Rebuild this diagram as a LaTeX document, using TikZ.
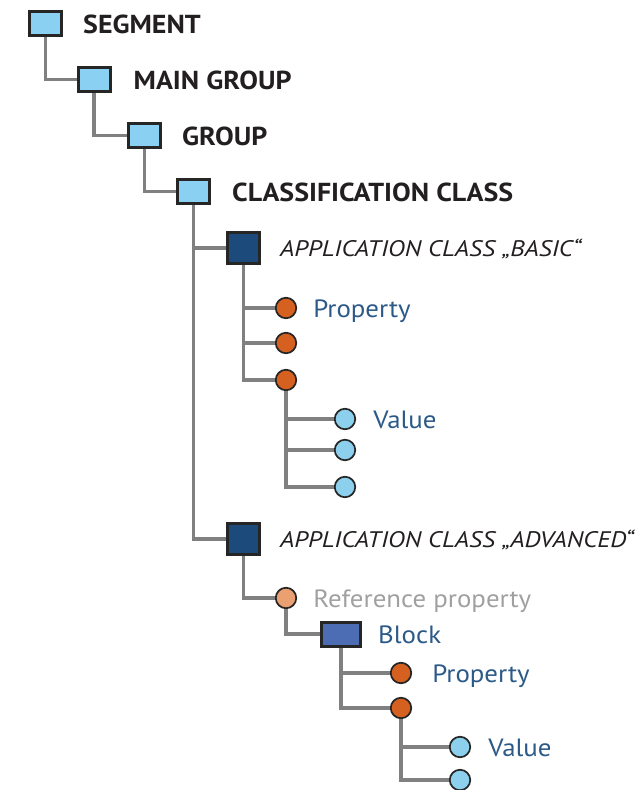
\documentclass[tikz,border=0pt]{standalone}
\usepackage{fontspec}
\setmainfont{PT Sans}[FakeStretch=1.075]
\newfontfamily\appfont{PT Sans}[FakeStretch=1.14]
\usetikzlibrary{positioning}
\definecolor{boxlight}{RGB}{138,208,242}
\definecolor{boxdark}{RGB}{28,74,122}
\definecolor{boxblock}{RGB}{76,108,180}
\definecolor{propfill}{RGB}{214,96,32}
\definecolor{reffill}{RGB}{234,160,112}
\definecolor{valfill}{RGB}{140,208,238}
\definecolor{linegray}{RGB}{128,128,128}
\definecolor{txtblue}{RGB}{44,90,136}
\definecolor{txtgray}{RGB}{160,160,160}
\definecolor{txtdark}{RGB}{35,31,32}

\begin{document}
\begin{tikzpicture}[x=1pt,y=-1pt,node distance=19pt,
    conn/.style={draw=linegray,line width=3.2pt},
    cbox/.style={draw=black!85,line width=3pt,fill=boxlight,minimum width=32pt,minimum height=24pt,inner sep=0pt},
    abox/.style={draw=black!85,line width=3pt,fill=boxdark,minimum width=32pt,minimum height=31pt,inner sep=0pt},
    bbox/.style={draw=black!85,line width=3pt,fill=boxblock,minimum width=39pt,minimum height=24pt,inner sep=0pt},
    prop/.style={circle,draw=black!85,line width=1.7pt,fill=propfill,minimum size=20.5pt,inner sep=0pt},
    refp/.style={prop,fill=reffill},
    val/.style={prop,fill=valfill},
    head/.style={inner sep=0pt,text height=19pt,text depth=0pt,text=txtdark,font=\fontsize{26}{30}\selectfont\bfseries},
    app/.style={inner sep=0pt,text height=16pt,text depth=0pt,text=txtdark,font=\fontsize{22.5}{26}\selectfont\appfont\itshape},
    lbl/.style={inner sep=0pt,text height=18pt,text depth=0pt,text=txtblue,font=\fontsize{25}{30}\selectfont}]
  \useasboundingbox (0,0) rectangle (639,790);

  % class hierarchy
  \node[cbox] (seg)  at (45.5,23.5)  {};
  \node[cbox] (main) at (94,79.5)    {};
  \node[cbox] (grp)  at (144.5,135.5) {};
  \node[cbox] (cls)  at (193.5,191.5) {};
  \node[head] (seg_t)  [right=20pt of seg]  {SEGMENT};
  \node[head] (main_t) [right=22pt of main] {MAIN GROUP};
  \node[head] (grp_t)  [right=20pt of grp]  {GROUP};
  \node[head] (cls_t)  [right=21pt of cls]  {CLASSIFICATION CLASS};

  % application class basic
  \node[abox] (basic) at (243.5,248) {};
  \node[app]  (basic_t) [right=19pt of basic] {APPLICATION CLASS „BASIC“};
  \node[prop] (p_1) at (286,308) {};
  \node[prop] (p_2) at (286,343) {};
  \node[prop] (p_3) at (286,380) {};
  \node[lbl]  (p_1t) [right=16pt of p_1] {Property};
  \node[val]  (v_1) at (345,419) {};
  \node[val]  (v_2) at (345,450) {};
  \node[val]  (v_3) at (345,487) {};
  \node[lbl]  (v_1t) [right=17pt of v_1] {Value};

  % application class advanced
  \node[abox] (adv) at (243.5,539) {};
  \node[app]  (adv_t) [right=19pt of adv] {APPLICATION CLASS „ADVANCED“};
  \node[refp] (ref) at (286,598) {};
  \node[lbl,text=txtgray] (ref_t) [right=16pt of ref] {Reference property};
  \node[bbox] (blk) at (341,634) {};
  \node[lbl]  (blk_t) [right=16pt of blk] {Block};
  \node[prop] (p_4) at (401,673) {};
  \node[prop] (p_5) at (401,708) {};
  \node[lbl]  (p_4t) [right=20pt of p_4] {Property};
  \node[val]  (v_4) at (460,747) {};
  \node[val]  (v_5) at (460,780) {};
  \node[lbl]  (v_4t) [right=17pt of v_4] {Value};

  \draw[conn] (seg) -- (seg |- main) -- (main);
  \draw[conn] (main) -- (main |- grp) -- (grp);
  \draw[conn] (grp) -- (grp |- cls) -- (cls);
  \draw[conn] (cls) -- (cls |- adv) -- (adv);
  \draw[conn] (cls |- basic) -- (basic);
  \draw[conn] (basic) -- (basic |- p_3) -- (p_3);
  \draw[conn] (basic |- p_1) -- (p_1);
  \draw[conn] (basic |- p_2) -- (p_2);
  \draw[conn] (p_3) -- (p_3 |- v_3) -- (v_3);
  \draw[conn] (p_3 |- v_1) -- (v_1);
  \draw[conn] (p_3 |- v_2) -- (v_2);
  \draw[conn] (adv) -- (adv |- ref) -- (ref);
  \draw[conn] (ref) -- (ref |- blk) -- (blk);
  \draw[conn] (blk) -- (blk |- p_5) -- (p_5);
  \draw[conn] (blk |- p_4) -- (p_4);
  \draw[conn] (p_5) -- (p_5 |- v_5) -- (v_5);
  \draw[conn] (p_5 |- v_4) -- (v_4);
\end{tikzpicture}
\end{document}
